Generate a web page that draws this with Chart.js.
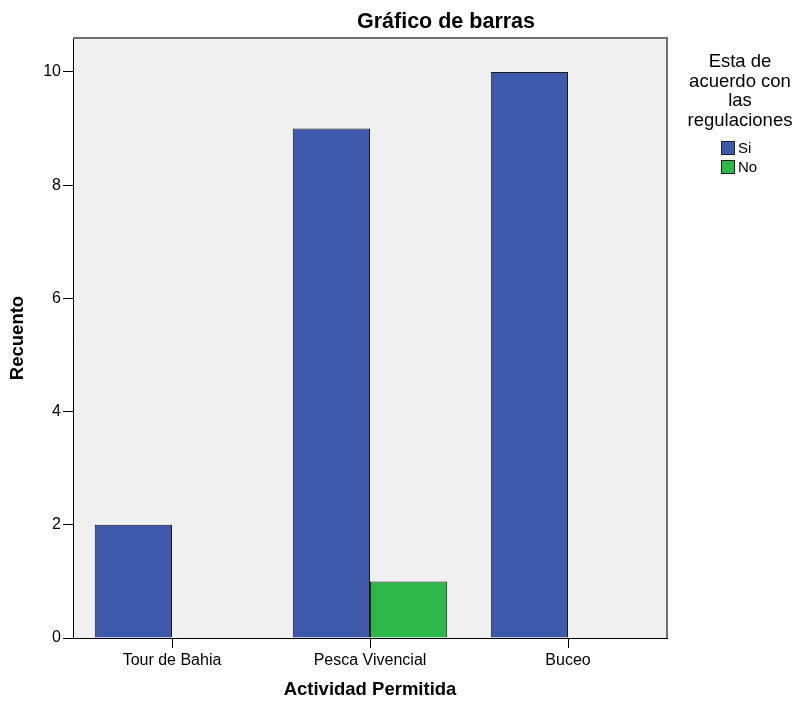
<!DOCTYPE html>
<html>
<head>
<meta charset="utf-8">
<script src="https://cdn.jsdelivr.net/npm/chart.js@4/dist/chart.umd.min.js"></script>
<style>
  body { margin: 0; background: #fff; }
  #wrap { width: 797px; height: 702px; }
</style>
</head>
<body>
<div id="wrap"><canvas id="barChart" width="797" height="702"></canvas></div>
<script>
const categories = ['Tour de Bahia', 'Pesca Vivencial', 'Buceo'];
const siValues = [2, 9, 10];
const noValues = [null, 1, null];
const yTicks = [0, 2, 4, 6, 8, 10];
const legendTitle = ['Esta de', 'acuerdo con', 'las', 'regulaciones'];
const chartTitle = 'Gráfico de barras';

const FONT = '"Liberation Sans", Arial, sans-serif';

// background, plot frame, title and legend
const decorPlugin = {
    id: 'decor',
    beforeDraw(chart) {
        const { ctx, chartArea: a } = chart;
        ctx.save();
        ctx.fillStyle = '#f0f0f0';
        ctx.fillRect(a.left, a.top, a.right - a.left, a.bottom - a.top);
        ctx.restore();
    },
    afterDraw(chart) {
        const { ctx, chartArea: a } = chart;
        ctx.save();
        ctx.strokeStyle = '#6e6e6e';
        ctx.lineWidth = 2;
        ctx.beginPath();
        ctx.moveTo(a.left, a.top);
        ctx.lineTo(a.right, a.top);
        ctx.lineTo(a.right, a.bottom);
        ctx.stroke();

        ctx.fillStyle = '#000';
        ctx.font = 'bold 21.5px ' + FONT;
        ctx.textAlign = 'center';
        ctx.textBaseline = 'middle';
        ctx.fillText(chartTitle, 446, 22);

        ctx.font = '18.5px ' + FONT;
        legendTitle.forEach((line, i) => ctx.fillText(line, 740, 62 + i * 19.5));

        ctx.font = '15px ' + FONT;
        ctx.textAlign = 'left';
        chart.data.datasets.forEach((ds, i) => {
            const y = 141 + i * 19;
            ctx.fillStyle = ds.backgroundColor;
            ctx.fillRect(721, y, 14, 14);
            ctx.strokeStyle = '#222';
            ctx.lineWidth = 1;
            ctx.strokeRect(721.5, y + 0.5, 13, 13);
            ctx.fillStyle = '#000';
            ctx.fillText(ds.label, 738, y + 8);
        });
        ctx.restore();
    }
};

new Chart(document.getElementById('barChart').getContext('2d'), {
    type: 'bar',
    data: {
        labels: categories,
        datasets: [
            { label: 'Si', data: siValues, backgroundColor: '#3e58ac', borderColor: '#1a1a1a', borderWidth: 1 },
            { label: 'No', data: noValues, backgroundColor: '#2fb84a', borderColor: '#1a1a1a', borderWidth: 1 }
        ]
    },
    options: {
        responsive: false,
        animation: false,
        layout: { padding: { top: 38, right: 130, left: 0, bottom: 0 } },
        datasets: { bar: { barPercentage: 1, categoryPercentage: 0.78 } },
        plugins: {
            legend: { display: false },
            tooltip: { enabled: false },
            title: { display: false }
        },
        scales: {
            x: {
                afterFit: s => { s.height = 64; },
                grid: { offset: false, drawOnChartArea: false, drawTicks: true, tickLength: 10, color: '#000' },
                border: { color: '#000', width: 1 },
                ticks: { color: '#000', font: { family: FONT, size: 16 }, padding: 3 },
                title: { display: true, text: 'Actividad Permitida', color: '#000',
                         font: { family: FONT, size: 18.5, weight: 'bold' }, padding: { top: 4, bottom: 1 } }
            },
            y: {
                min: 0,
                max: 10.6,
                afterFit: s => { s.width = 73; },
                afterBuildTicks: s => { s.ticks = yTicks.map(v => ({ value: v })); },
                grid: { drawOnChartArea: false, drawTicks: true, tickLength: 10, color: '#000' },
                border: { color: '#000', width: 1 },
                ticks: { color: '#000', font: { family: FONT, size: 16 }, padding: 2 },
                title: { display: true, text: 'Recuento', color: '#000',
                         font: { family: FONT, size: 18.5, weight: 'bold' }, padding: { top: 7, bottom: 4 } }
            }
        }
    },
    plugins: [decorPlugin]
});
</script>
</body>
</html>
